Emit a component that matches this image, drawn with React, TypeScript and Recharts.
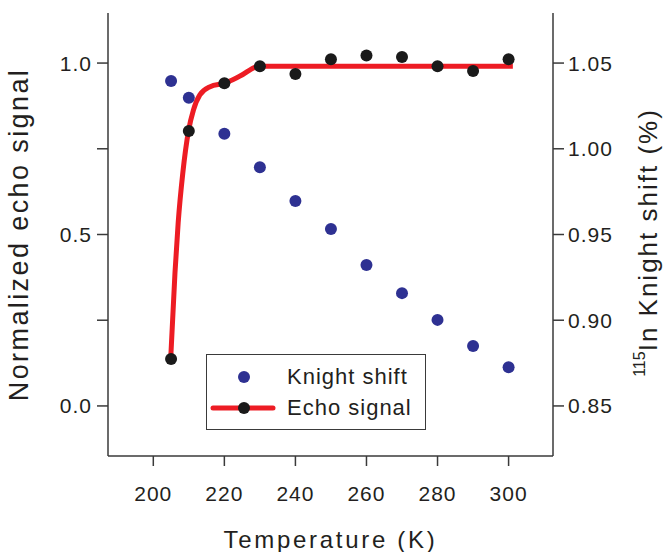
import { ComposedChart, Line, Scatter, XAxis, YAxis } from 'recharts'

// temperature (K) of each measurement
const temps = [205, 210, 220, 230, 240, 250, 260, 270, 280, 290, 300]
// normalized echo signal (left axis)
const echo = [0.137, 0.802, 0.941, 0.991, 0.968, 1.011, 1.022, 1.018, 0.991, 0.977, 1.011]
// 115In Knight shift in % (right axis)
const knight = [1.0396, 1.0298, 1.0088, 0.9892, 0.9696, 0.9532, 0.9322, 0.9158, 0.9002, 0.885, 0.8726]
// red guide curve through the echo data
const fitT = [204.9, 206.1, 207.0, 208.3, 209.9, 211.3, 213.1, 216.0, 219.9, 224.4, 229.8, 301.2]
const fitV = [0.139, 0.388, 0.534, 0.679, 0.802, 0.863, 0.907, 0.931, 0.941, 0.962, 0.991, 0.991]

const xTicks = [200, 220, 240, 260, 280, 300]
const leftTicks = [0, 0.25, 0.5, 0.75, 1.0]
const rightTicks = [0.85, 0.9, 0.95, 1.0, 1.05]

const C = {
  ink: '#231f20',
  axis: '#3a3a3a',
  blue: '#2e3192',
  red: '#ed1c24',
  black: '#1a1a1a',
}

const FONT = '"Liberation Sans", Arial, sans-serif'
const tickStyle = { fill: C.ink, fontSize: 21, fontFamily: FONT, letterSpacing: 1 }

const echoData = temps.map((t, i) => ({ t, v: echo[i] }))
const knightData = temps.map((t, i) => ({ t, k: knight[i] }))
const fitData = fitT.map((t, i) => ({ t, v: fitV[i] }))

const dot = (color: string) => (p: any) => (
  <circle cx={p.cx} cy={p.cy} r={6} fill={color} />
)

function RightLabel(props: any) {
  const { viewBox } = props
  const cx = 648
  const cy = viewBox.y + viewBox.height / 2 + 8
  return (
    <text
      transform={`rotate(-90, ${cx}, ${cy})`}
      x={cx}
      y={cy}
      textAnchor="middle"
      fill={C.ink}
      fontFamily={FONT}
      fontSize={26}
      letterSpacing={2}
      dominantBaseline="central"
    >
      <tspan fontSize={16} letterSpacing={0} dy={-9}>115</tspan>
      <tspan dy={9}>In Knight shift (%)</tspan>
    </text>
  )
}

export default function App() {
  return (
    <div style={{ position: 'absolute', left: 0, top: 0, width: 666, height: 552, background: '#fff' }}>
      <ComposedChart width={666} height={552} margin={{ top: 13, right: 0, bottom: 0, left: 0 }}>
        <XAxis
          xAxisId="b"
          dataKey="t"
          type="number"
          domain={[187.25, 312.5]}
          allowDataOverflow
          ticks={xTicks}
          height={96}
          tickSize={10}
          tickMargin={20}
          tick={tickStyle}
          stroke={C.axis}
          strokeWidth={1.5}
          label={{
            value: 'Temperature (K)',
            position: 'insideBottom',
            offset: 4,
            fill: C.ink,
            fontSize: 24,
            fontFamily: FONT,
            letterSpacing: 2.7,
          }}
        />
        <XAxis
          xAxisId="top"
          orientation="top"
          type="number"
          domain={[187.25, 312.5]}
          height={0}
          tick={false}
          tickLine={false}
          stroke={C.axis}
          strokeWidth={1.5}
        />
        <YAxis
          yAxisId="l"
          type="number"
          domain={[-0.146, 1.146]}
          allowDataOverflow
          ticks={leftTicks}
          width={108}
          tickSize={11}
          tickMargin={5}
          tick={tickStyle}
          tickFormatter={v => (v * 2 === Math.round(v * 2) ? v.toFixed(1) : '')}
          stroke={C.axis}
          strokeWidth={1.5}
          label={{
            value: 'Normalized echo signal',
            angle: -90,
            position: 'insideLeft',
            offset: 18,
            fill: C.ink,
            fontSize: 27,
            fontFamily: FONT,
            letterSpacing: 2.4,
            style: { textAnchor: 'middle' },
          }}
        />
        <YAxis
          yAxisId="r"
          orientation="right"
          type="number"
          domain={[0.8208, 1.0792]}
          allowDataOverflow
          ticks={rightTicks}
          width={113}
          tickSize={11}
          tickMargin={4}
          tick={tickStyle}
          tickFormatter={v => v.toFixed(2)}
          stroke={C.axis}
          strokeWidth={1.5}
          label={<RightLabel />}
        />
        <Line
          xAxisId="b"
          yAxisId="l"
          data={fitData}
          dataKey="v"
          type="monotone"
          stroke={C.red}
          strokeWidth={5}
          dot={false}
          activeDot={false}
          isAnimationActive={false}
        />
        <Scatter
          xAxisId="b"
          yAxisId="r"
          data={knightData}
          dataKey="k"
          shape={dot(C.blue)}
          isAnimationActive={false}
        />
        <Scatter
          xAxisId="b"
          yAxisId="l"
          data={echoData}
          dataKey="v"
          shape={dot(C.black)}
          isAnimationActive={false}
        />
      </ComposedChart>

      {/* legend box */}
      <div
        style={{
          position: 'absolute', left: 206, top: 354, width: 218, height: 74,
          border: `1.5px solid ${C.axis}`, background: '#fff',
          fontFamily: FONT, fontSize: 22, color: C.ink, letterSpacing: 1,
        }}
      >
        <svg width={80} height={74} style={{ position: 'absolute', left: 0, top: 0 }}>
          <circle cx={37} cy={22} r={6} fill={C.blue} />
          <line x1={6} x2={66} y1={53} y2={53} stroke={C.red} strokeWidth={5} strokeLinecap="round" />
          <circle cx={37} cy={53} r={6} fill={C.black} />
        </svg>
        <div style={{ position: 'absolute', left: 80, top: 22, transform: 'translateY(-50%)', whiteSpace: 'nowrap' }}>Knight shift</div>
        <div style={{ position: 'absolute', left: 80, top: 53, transform: 'translateY(-50%)', whiteSpace: 'nowrap' }}>Echo signal</div>
      </div>
    </div>
  )
}
